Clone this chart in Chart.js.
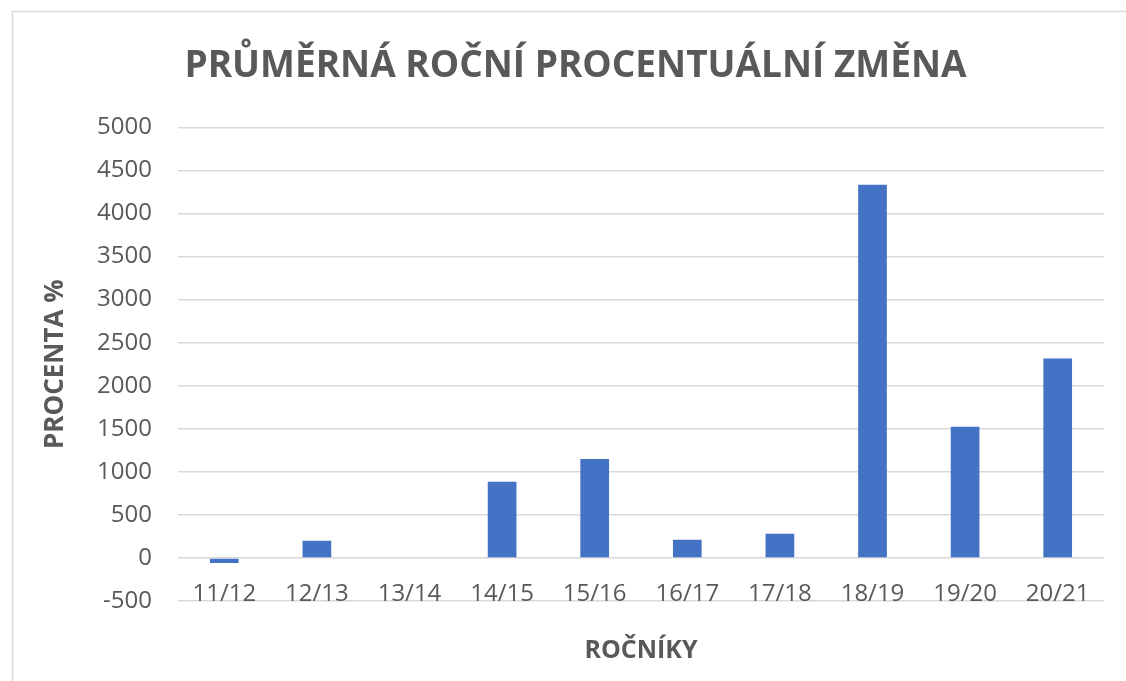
<!DOCTYPE html>
<html>
<head>
<meta charset="utf-8">
<script src="https://cdn.jsdelivr.net/npm/chart.js@4"></script>
<style>
  html, body { margin: 0; padding: 0; background: #fff; }
  #wrap { position: absolute; left: 0; top: 0; width: 1126px; height: 681px; }
</style>
</head>
<body>
<div id="wrap"><canvas id="zmena"></canvas></div>
<script>
// kategorie a hodnoty
var rocniky = ["11/12", "12/13", "13/14", "14/15", "15/16", "16/17", "17/18", "18/19", "19/20", "20/21"];
var procenta = [-60, 200, 0, 885, 1150, 210, 280, 4335, 1525, 2315];
var yMin = -500, yMax = 5000, yStep = 500;

var grey = "#595959";
var font = "'Open Sans', 'Liberation Sans', sans-serif";

// světle šedý rámeček kolem grafu jako v Excelu
var ramecek = {
  id: "ramecek",
  beforeDraw: function(chart) {
    var c = chart.ctx;
    c.save();
    c.fillStyle = "#fff";
    c.fillRect(0, 0, chart.width, chart.height);
    c.strokeStyle = "#d9d9d9";
    c.lineWidth = 1.5;
    c.strokeRect(12.5, 11.5, chart.width, chart.height);
    c.restore();
  }
};

var ctx = document.getElementById("zmena").getContext("2d");
var chart = new Chart(ctx, {
  type: "bar",
  data: {
    labels: rocniky,
    datasets: [{
      label: "Průměrná roční procentuální změna",
      data: procenta,
      backgroundColor: "#4472c4",
      barPercentage: 0.31,
      categoryPercentage: 1.0
    }]
  },
  options: {
    responsive: true,
    maintainAspectRatio: false,
    animation: false,
    layout: { padding: { left: 47, right: 22, top: 44, bottom: 15 } },
    plugins: {
      legend: { display: false },
      tooltip: { enabled: false },
      title: {
        display: true,
        text: "PRŮMĚRNÁ ROČNÍ PROCENTUÁLNÍ ZMĚNA",
        color: grey,
        font: { family: font, size: 37, weight: "bold" },
        padding: { top: 0, bottom: 39 }
      }
    },
    scales: {
      x: {
        grid: { display: false, drawTicks: false },
        border: { display: false },
        ticks: { color: grey, font: { family: font, size: 24 }, mirror: true, padding: -8 },
        title: {
          display: true,
          text: "ROČNÍKY",
          color: grey,
          font: { family: font, size: 25, weight: "bold" },
          padding: { top: 51, bottom: 0 }
        }
      },
      y: {
        min: yMin,
        max: yMax,
        afterFit: function(scale) { scale.width = 131; },
        ticks: {
          stepSize: yStep,
          color: grey,
          font: { family: font, size: 24 },
          padding: 26,
          callback: function(v) { return String(v); }
        },
        grid: { color: "#d9d9d9", lineWidth: 1.5, drawTicks: false },
        border: { display: false },
        title: {
          display: true,
          text: "PROCENTA %",
          color: grey,
          font: { family: font, size: 26, weight: "bold" },
          padding: { top: -7, bottom: 0 }
        }
      }
    }
  },
  plugins: [ramecek]
});
</script>
</body>
</html>
